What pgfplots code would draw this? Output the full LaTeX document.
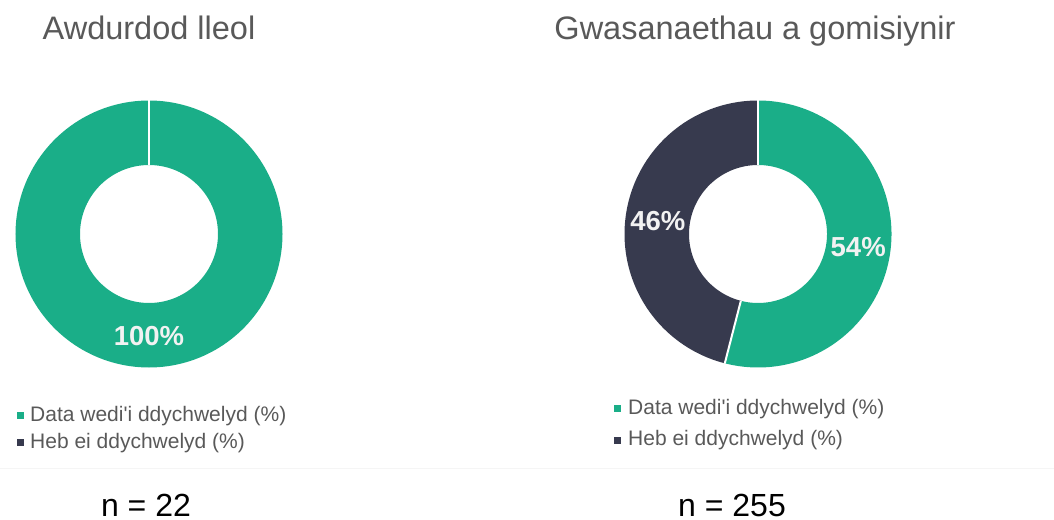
\documentclass[border=0pt]{standalone}
\usepackage{pgfplots}
\pgfplotsset{compat=1.18}
\usepackage{fontspec}
\setmainfont{Liberation Sans}[Ligatures=TeXOff]
\definecolor{cgreen}{HTML}{1AAE88}
\definecolor{cdark}{HTML}{373A4E}
\definecolor{ctext}{HTML}{595959}
\definecolor{clabel}{HTML}{F2F2F2}
% values (%)
\def\LAret{100}\def\LAnot{0}
\def\GCret{54}\def\GCnot{46}
\begin{document}
\begin{tikzpicture}
\begin{axis}[
  width=1054bp, height=520bp, scale only axis,
  xmin=0, xmax=1054, ymin=0, ymax=520,
  hide axis, clip=false,
  at={(0,0)}, anchor=south west,
]
% ---------- left donut: centre (149,286), mid radius 101 ----------
\pgfmathsetmacro{\aA}{90}
\pgfmathsetmacro{\aB}{90-3.6*\LAret}
\addplot[draw=cgreen, line width=64.5bp, line cap=butt, domain=\aB:\aA, samples=181, variable=\t]
  ({149+101.25*cos(\t)}, {286+101.25*sin(\t)});
\addplot[draw=white, line width=2bp] coordinates {(149,286+69) (149,286+133.5)};
\node[font=\fontsize{27.5bp}{32bp}\selectfont\bfseries, text=clabel] at (axis cs:149,{286-102}) {100\%};
% ---------- right donut: centre (758,286) ----------
\pgfmathsetmacro{\bA}{90}
\pgfmathsetmacro{\bB}{90-3.6*\GCret}
\pgfmathsetmacro{\bC}{\bB-3.6*\GCnot}
\addplot[draw=cgreen, line width=64.5bp, line cap=butt, domain=\bB:\bA, samples=121, variable=\t]
  ({758+101.25*cos(\t)}, {286+101.25*sin(\t)});
\addplot[draw=cdark, line width=64.5bp, line cap=butt, domain=\bC:\bB, samples=121, variable=\t]
  ({758+101.25*cos(\t)}, {286+101.25*sin(\t)});
\addplot[draw=white, line width=2bp] coordinates {(758,286+69) (758,286+133.5)};
\addplot[draw=white, line width=2bp, domain=69:133.5, samples=2, variable=\r]
  ({758+\r*cos(\bB)}, {286+\r*sin(\bB)});
\pgfmathsetmacro{\mA}{(\bA+\bB)/2}
\pgfmathsetmacro{\mB}{(\bB+\bC)/2}
\node[font=\fontsize{27.5bp}{32bp}\selectfont\bfseries, text=clabel] at (axis cs:{758+101*cos(\mA)},{286+101*sin(\mA)}) {54\%};
\node[font=\fontsize{27.5bp}{32bp}\selectfont\bfseries, text=clabel] at (axis cs:{758+101*cos(\mB)},{286+101*sin(\mB)}) {46\%};
% ---------- titles ----------
\node[anchor=base, text=ctext, font=\fontsize{32.5bp}{38bp}\selectfont] at (axis cs:149,{520-40}) {Awdurdod lleol};
\node[anchor=base, text=ctext, font=\fontsize{32.5bp}{38bp}\selectfont] at (axis cs:755,{520-40}) {Gwasanaethau a gomisiynir};
% ---------- legends ----------
\addplot[only marks, mark=square*, mark size=3bp, color=cgreen] coordinates {(20,{520-415}) (617,{520-408})};
\addplot[only marks, mark=square*, mark size=3bp, color=cdark] coordinates {(20,{520-442}) (617,{520-440})};
\node[anchor=base west, inner sep=0pt, text=ctext, font=\fontsize{21bp}{25bp}\selectfont] at (axis cs:30,{520-422}) {Data wedi'i ddychwelyd (\%)};
\node[anchor=base west, inner sep=0pt, text=ctext, font=\fontsize{21bp}{25bp}\selectfont] at (axis cs:30,{520-449}) {Heb ei ddychwelyd (\%)};
\node[anchor=base west, inner sep=0pt, text=ctext, font=\fontsize{21bp}{25bp}\selectfont] at (axis cs:628,{520-415}) {Data wedi'i ddychwelyd (\%)};
\node[anchor=base west, inner sep=0pt, text=ctext, font=\fontsize{21bp}{25bp}\selectfont] at (axis cs:628,{520-446}) {Heb ei ddychwelyd (\%)};
% ---------- separator ----------
\addplot[draw=black!4, line width=1bp] coordinates {(0,{520-469}) (1054,{520-469})};
% ---------- n ----------
\node[anchor=base, inner sep=0pt, text=black, font=\fontsize{32bp}{38bp}\selectfont] at (axis cs:146,{520-517}) {n = 22};
\node[anchor=base, inner sep=0pt, text=black, font=\fontsize{32bp}{38bp}\selectfont] at (axis cs:732,{520-517}) {n = 255};
\end{axis}
\pgfresetboundingbox
\useasboundingbox (0,0) rectangle (1054bp,520bp);
\end{tikzpicture}
\end{document}
